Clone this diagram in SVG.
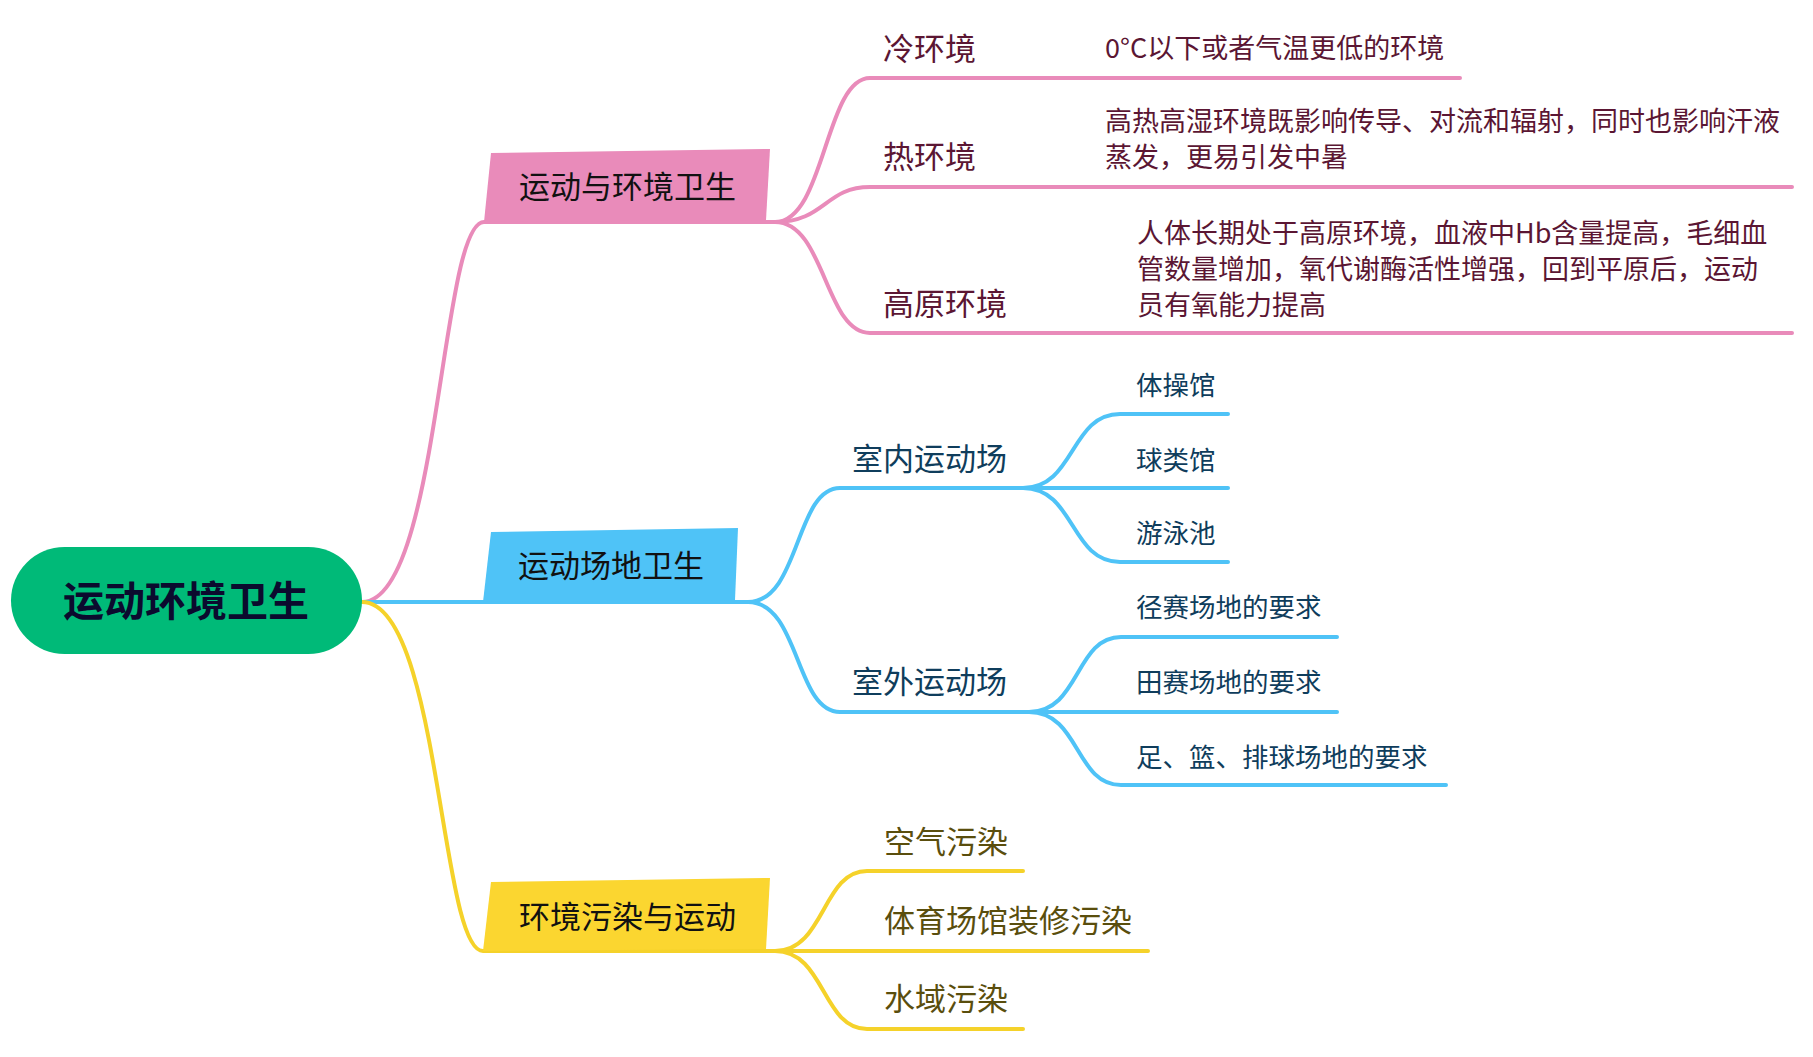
<svg xmlns="http://www.w3.org/2000/svg" width="1813" height="1057" viewBox="0 0 1813 1057">
<style>
text{font-family:"Noto Sans CJK SC","Noto Sans",sans-serif;}
.c{fill:none;stroke-width:4;stroke-linecap:round;}
.pk{stroke:#E98BBA;}
.bl{stroke:#4FC3F7;}
.yl{stroke:#F5D22A;}
.l1{font-size:31px;fill:#111111;}
.l2p{font-size:31px;fill:#5B1633;}
.dp{font-size:27px;fill:#5B1633;}
.l2b{font-size:31px;fill:#0F3D5C;}
.l3b{font-size:26.5px;fill:#0F3D5C;}
.l2y{font-size:31px;fill:#5A4E0D;}
</style>
<rect width="1813" height="1057" fill="#ffffff"/>
<g id="connectors">
<path class="c pk" d="M362,602 C440,602 440,222 484,222 L780,222"/>
<path class="c pk" d="M775,222 C825,222 825,78 870,78 L1460,78"/>
<path class="c pk" d="M775,222 C825,222 825,187 870,187 L1792,187"/>
<path class="c pk" d="M775,222 C825,222 825,333 870,333 L1792,333"/>
<path class="c bl" d="M362,602 L753,602"/>
<path class="c bl" d="M748,602 C800,602 795,488 840,488 L1023,488"/>
<path class="c bl" d="M748,602 C800,602 795,712 840,712 L1029,712"/>
<path class="c bl" d="M1023,488 C1075,488 1070,414 1120,414 L1228,414"/>
<path class="c bl" d="M1023,488 L1228,488"/>
<path class="c bl" d="M1023,488 C1075,488 1070,562 1120,562 L1228,562"/>
<path class="c bl" d="M1029,712 C1080,712 1075,637 1121,637 L1337,637"/>
<path class="c bl" d="M1029,712 L1337,712"/>
<path class="c bl" d="M1029,712 C1080,712 1075,785 1121,785 L1446,785"/>
<path class="c yl" d="M362,602 C440,602 440,951 483,951 L1148,951"/>
<path class="c yl" d="M775,951 C825,951 822,871 867,871 L1023,871"/>
<path class="c yl" d="M775,951 C825,951 822,1029 867,1029 L1023,1029"/>
</g>
<g id="root">
<rect x="11" y="547" width="351" height="107" rx="53.5" fill="#00BA78"/>
<text x="186" y="616" text-anchor="middle" font-size="41" font-weight="bold" fill="#0B0A2E">运动环境卫生</text>
</g>
<g id="n1">
<polygon points="491,153 770,149 766,220 484,222" fill="#E98BBA"/>
<text class="l1" x="519" y="198">运动与环境卫生</text>
</g>
<g id="n2">
<polygon points="491,532 738,528 735,600 483,602" fill="#4FC3F7"/>
<text class="l1" x="518" y="577">运动场地卫生</text>
</g>
<g id="n3">
<polygon points="491,882 770,878 766,949 483,951" fill="#FBD630"/>
<text class="l1" x="519" y="928">环境污染与运动</text>
</g>
<g id="n1a"><text class="l2p" x="883" y="60">冷环境</text><text class="dp" x="1105" y="58">0°C以下或者气温更低的环境</text></g>
<g id="n1b"><text class="l2p" x="883" y="168">热环境</text><text class="dp" x="1105" y="131">高热高湿环境既影响传导、对流和辐射，同时也影响汗液</text><text class="dp" x="1105" y="167">蒸发，更易引发中暑</text></g>
<g id="n1c"><text class="l2p" x="883" y="315">高原环境</text><text class="dp" x="1137" y="243">人体长期处于高原环境，血液中Hb含量提高，毛细血</text><text class="dp" x="1137" y="279">管数量增加，氧代谢酶活性增强，回到平原后，运动</text><text class="dp" x="1137" y="315">员有氧能力提高</text></g>
<g id="n2a"><text class="l2b" x="852" y="470">室内运动场</text></g>
<g id="n2a1"><text class="l3b" x="1136" y="395">体操馆</text></g>
<g id="n2a2"><text class="l3b" x="1136" y="470">球类馆</text></g>
<g id="n2a3"><text class="l3b" x="1136" y="543">游泳池</text></g>
<g id="n2b"><text class="l2b" x="852" y="693">室外运动场</text></g>
<g id="n2b1"><text class="l3b" x="1136" y="617">径赛场地的要求</text></g>
<g id="n2b2"><text class="l3b" x="1136" y="692">田赛场地的要求</text></g>
<g id="n2b3"><text class="l3b" x="1136" y="767">足、篮、排球场地的要求</text></g>
<g id="n3a"><text class="l2y" x="884" y="853">空气污染</text></g>
<g id="n3b"><text class="l2y" x="884" y="932">体育场馆装修污染</text></g>
<g id="n3c"><text class="l2y" x="884" y="1010">水域污染</text></g>
</svg>
